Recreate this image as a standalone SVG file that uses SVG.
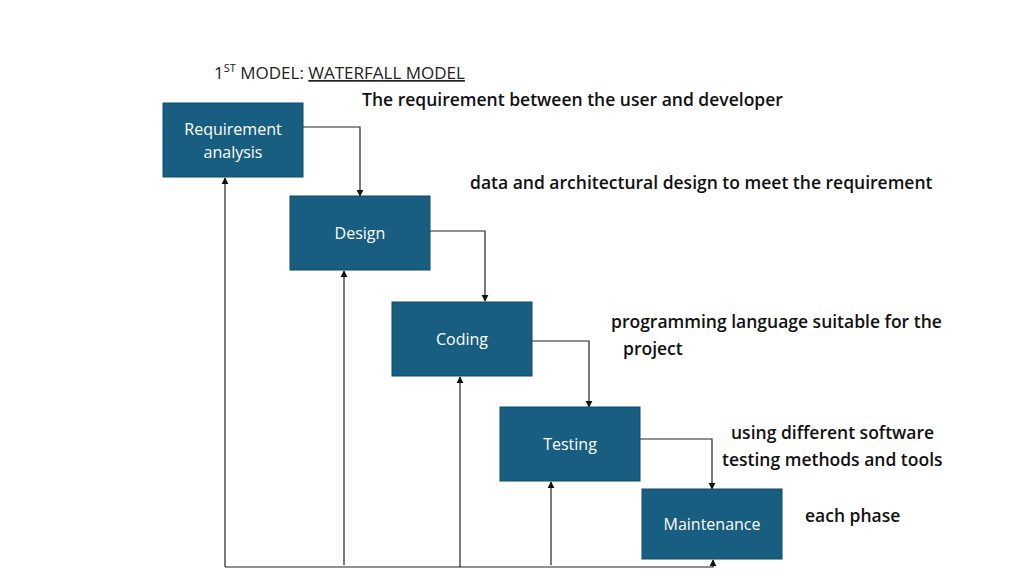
<svg xmlns="http://www.w3.org/2000/svg" width="1024" height="576" viewBox="0 0 1024 576">
<style>
.box{fill:#185e80;stroke:#0f4a66;stroke-width:1}
.bt{font-family:"Open Sans","Liberation Sans",sans-serif;font-size:16px;fill:#fff;text-anchor:middle}
.lab{font-family:"Open Sans","Liberation Sans",sans-serif;font-size:17.5px;font-weight:600;fill:#111}
.c{fill:none;stroke:#222;stroke-width:1.2}
</style>
<defs><marker id="a" viewBox="0 0 10 10" refX="9" refY="5" markerWidth="6" markerHeight="6" orient="auto"><path d="M0,0L10,5L0,10z" fill="#111"/></marker></defs>
<rect width="1024" height="576" fill="#fff"/>
<text x="214" y="79" font-family="Open Sans,Liberation Sans,sans-serif" font-size="17" fill="#222">1<tspan font-size="11" dy="-7">ST</tspan><tspan dy="7"> MODEL: </tspan><tspan text-decoration="underline">WATERFALL MODEL</tspan></text>
<text class="lab" x="362" y="106">The requirement between the user and developer</text>
<text class="lab" x="470" y="189">data and architectural design to meet the requirement</text>
<text class="lab" x="611" y="328">programming language suitable for the</text>
<text class="lab" x="623" y="355">project</text>
<text class="lab" x="731" y="439">using different software</text>
<text class="lab" x="722" y="466">testing methods and tools</text>
<text class="lab" x="805" y="522">each phase</text>
<g id="connectors">
<path class="c" d="M303,127H360V196" marker-end="url(#a)"/>
<path class="c" d="M430,231H485V301" marker-end="url(#a)"/>
<path class="c" d="M532,341H589V407" marker-end="url(#a)"/>
<path class="c" d="M640,439H712V489" marker-end="url(#a)"/>
<path class="c" d="M225,567H713V560" marker-end="url(#a)"/>
<path class="c" d="M225,567V178" marker-end="url(#a)"/>
<path class="c" d="M344,565V271" marker-end="url(#a)"/>
<path class="c" d="M460,567V377" marker-end="url(#a)"/>
<path class="c" d="M551,565V482" marker-end="url(#a)"/>
</g>
<g id="req"><rect class="box" x="163" y="103" width="140" height="74"/><text class="bt" x="233" y="135">Requirement</text><text class="bt" x="233" y="158">analysis</text></g>
<g id="design"><rect class="box" x="290" y="196" width="140" height="74"/><text class="bt" x="360" y="239">Design</text></g>
<g id="coding"><rect class="box" x="392" y="302" width="140" height="74"/><text class="bt" x="462" y="345">Coding</text></g>
<g id="testing"><rect class="box" x="500" y="407" width="140" height="74"/><text class="bt" x="570" y="450">Testing</text></g>
<g id="maint"><rect class="box" x="642" y="489" width="140" height="70"/><text class="bt" x="712" y="530">Maintenance</text></g>
</svg>
